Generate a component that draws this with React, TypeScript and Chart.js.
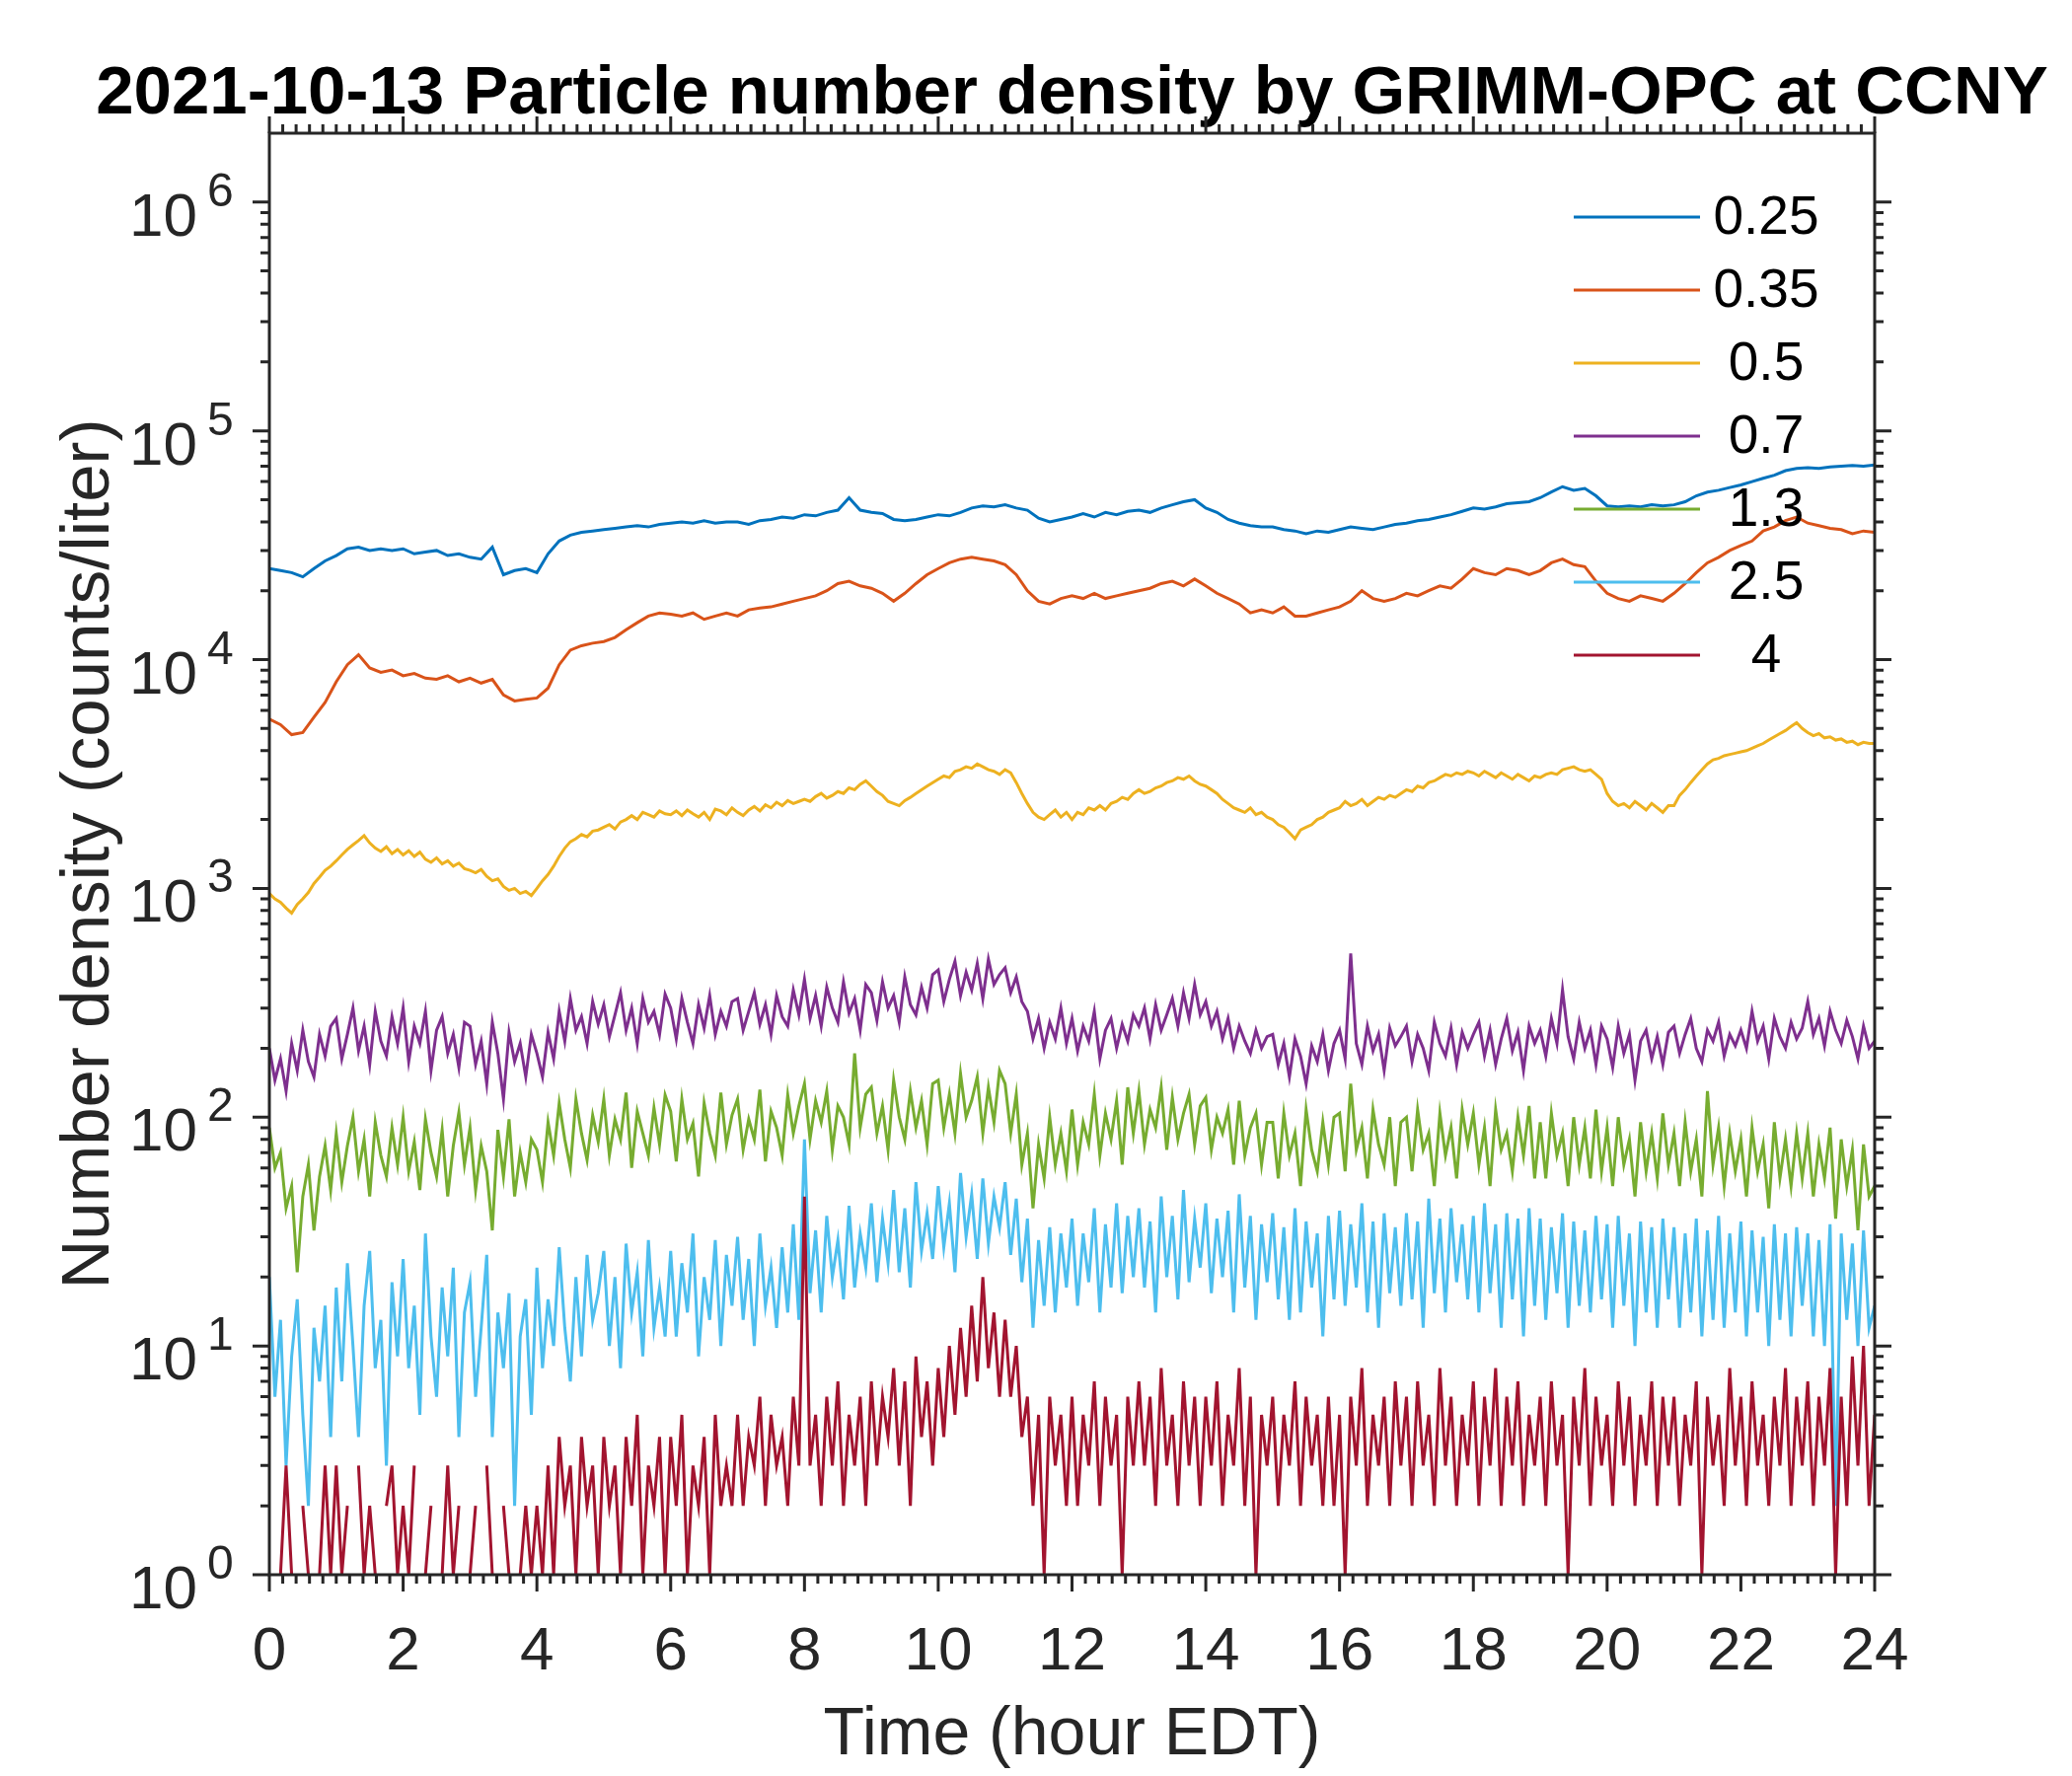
import React, { useEffect, useRef } from "react";
import { Chart, registerables } from "chart.js";

Chart.register(...registerables);

const FONT = "'Liberation Sans', Arial, Helvetica, sans-serif";
const AXIS_COLOR = "#262626";

const TITLE = "2021-10-13 Particle number density by GRIMM-OPC at CCNY";
const X_TITLE = "Time (hour EDT)";
const Y_TITLE = "Number density (counts/liter)";
const X_MIN = 0;
const X_MAX = 24;
const X_TICKS = [0, 2, 4, 6, 8, 10, 12, 14, 16, 18, 20, 22, 24];
const X_MINOR_STEP = 0.2;
const Y_MIN = 1;
const Y_MAX = 2e6;
const Y_TICK_EXPONENTS = [0, 1, 2, 3, 4, 5, 6];

const SIZE_LABELS = ["0.25", "0.35", "0.5", "0.7", "1.3", "2.5", "4"];
const COLORS = ["#0072BD", "#D95319", "#EDB120", "#7E2F8E", "#77AC30", "#4DBEEE", "#A2142F"];

// 10-minute readings (0:00 .. 24:00)
const N_025 = [
  25000, 24500, 24000, 23000, 25000, 27000,
  28500, 30500, 31000, 30000, 30500, 30000,
  30500, 29000, 29500, 30000, 28500, 29000,
  28000, 27500, 31000, 23500, 24500, 25000,
  24000, 29000, 33000, 35000, 36000, 36500,
  37000, 37500, 38000, 38500, 38000, 39000,
  39500, 40000, 39500, 40500, 39500, 40000,
  40000, 39000, 40500, 41000, 42000, 41500,
  43000, 42500, 44000, 45000, 51000, 45000,
  44000, 43500, 41000, 40500, 41000, 42000,
  43000, 42500, 44000, 46000, 47000, 46500,
  47500, 46000, 45000, 41500, 40000, 41000,
  42000, 43500, 42000, 44000, 43000, 44500,
  45000, 44000, 46000, 47500, 49000, 50000,
  46000, 44000, 41000, 39500, 38500, 38000,
  38000, 37000, 36500, 35500, 36500, 36000,
  37000, 38000, 37500, 37000, 38000, 39000,
  39500, 40500, 41000, 42000, 43000, 44500,
  46000, 45500, 46500, 48000, 48500, 49000,
  51000, 54000, 57000, 55000, 56000, 52000,
  47000, 46500, 47000, 46500, 47500, 47000,
  47500, 49000, 52000, 54000, 55000, 56500,
  58000, 60000, 62000, 64000, 67000, 68500,
  69000, 68500, 69500, 70000, 70500, 70000,
  71000,
];

const N_035 = [
  5500, 5200, 4700, 4800, 5600, 6500,
  8000, 9500, 10500, 9200, 8800, 9000,
  8500, 8700, 8300, 8200, 8500, 8000,
  8300, 7900, 8200, 7000, 6600, 6700,
  6800, 7500, 9500, 11000, 11500, 11800,
  12000, 12500, 13500, 14500, 15500, 16000,
  15800, 15500, 16000, 15000, 15500, 16000,
  15500, 16500, 16800, 17000, 17500, 18000,
  18500, 19000, 20000, 21500, 22000, 21000,
  20500, 19500, 18000, 19500, 21500, 23500,
  25000, 26500, 27500, 28000, 27500, 27000,
  26000, 23500, 20000, 18000, 17500, 18500,
  19000, 18500, 19500, 18500, 19000, 19500,
  20000, 20500, 21500, 22000, 21000, 22500,
  21000, 19500, 18500, 17500, 16000, 16500,
  16000, 17000, 15500, 15500, 16000, 16500,
  17000, 18000, 20000, 18500, 18000, 18500,
  19500, 19000, 20000, 21000, 20500, 22500,
  25000, 24000, 23500, 25000, 24500, 23500,
  24500, 26500, 27500, 26000, 25500, 22000,
  19500, 18500, 18000, 19000, 18500, 18000,
  19500, 21500, 24000, 26500, 28000, 30000,
  31500, 33000, 36500, 38000, 40500, 42000,
  39500, 38500, 37500, 37000, 35500, 36500,
  36000,
];

// 5-minute readings (0:00 .. 24:00)
const N_05 = [
  950, 900, 870, 820, 780, 850, 900, 960, 1050, 1120, 1200, 1250,
  1320, 1400, 1480, 1550, 1620, 1700, 1580, 1500, 1450, 1520, 1420, 1480,
  1400, 1460, 1380, 1440, 1340, 1300, 1360, 1280, 1320, 1250, 1290, 1220,
  1200, 1170, 1210, 1130, 1080, 1100, 1020, 980, 1000, 950, 970, 930,
  1000, 1080, 1150, 1250, 1380, 1500, 1600, 1650, 1720, 1680, 1780, 1800,
  1850, 1900, 1820, 1950, 2000, 2080, 2000, 2150, 2100, 2050, 2180, 2120,
  2100, 2180, 2080, 2200, 2120, 2050, 2150, 2000, 2220, 2180, 2100, 2250,
  2150, 2080, 2200, 2280, 2180, 2320, 2250, 2380, 2300, 2420, 2350, 2400,
  2450, 2400, 2520, 2600, 2480, 2550, 2650, 2600, 2750, 2700, 2850, 2950,
  2800, 2650, 2550, 2400, 2350, 2300, 2420, 2500, 2600, 2700, 2800, 2900,
  3000, 3100, 3050, 3250, 3300, 3400, 3350, 3500, 3400, 3300, 3250, 3150,
  3300, 3200, 2900, 2600, 2350, 2150, 2050, 2000, 2100, 2200, 2050, 2150,
  2000, 2150, 2100, 2250, 2200, 2300, 2200, 2350, 2400, 2500, 2450, 2600,
  2700, 2600, 2650, 2750, 2800, 2900, 2950, 3050, 3000, 3100, 2950, 2850,
  2800, 2700, 2600, 2450, 2350, 2250, 2200, 2150, 2250, 2100, 2150, 2050,
  2000, 1900, 1850, 1750, 1650, 1800, 1850, 1900, 2000, 2050, 2150, 2200,
  2250, 2400, 2300, 2350, 2450, 2300, 2400, 2500, 2450, 2550, 2500, 2600,
  2700, 2650, 2800, 2750, 2900, 2950, 3050, 3150, 3100, 3200, 3150, 3250,
  3200, 3100, 3250, 3150, 3050, 3200, 3100, 3000, 3150, 3050, 2950, 3100,
  3050, 3150, 3200, 3150, 3300, 3350, 3400, 3300, 3250, 3300, 3150, 3000,
  2600, 2400, 2300, 2350, 2250, 2400, 2300, 2200, 2350, 2250, 2150, 2300,
  2300, 2550, 2700, 2900, 3100, 3300, 3500, 3650, 3700, 3800, 3850, 3900,
  3950, 4000, 4100, 4200, 4300, 4450, 4600, 4750, 4900, 5100, 5300, 5000,
  4800, 4650, 4750, 4550, 4600, 4450, 4500, 4350, 4400, 4250, 4350, 4300,
  4300,
];

const N_07 = [
  200, 145, 180, 130, 210, 160, 240, 175, 150, 230, 185, 250,
  270, 180, 230, 300, 195, 250, 170, 290, 215, 185, 275, 210,
  300, 175, 250, 210, 290, 160, 240, 275, 190, 230, 165, 260,
  250, 170, 215, 140, 260, 190, 120, 235, 175, 210, 150, 230,
  190, 150, 235, 180, 290, 215, 330, 240, 275, 210, 320, 255,
  310, 225, 280, 350, 240, 300, 210, 330, 260, 290, 230, 345,
  300, 220, 330, 260, 210, 310, 245, 340, 230, 290, 250, 320,
  330, 240, 290, 350, 255, 310, 230, 340, 275, 250, 360, 280,
  400, 270, 340, 250, 370, 300, 260, 390, 285, 330, 240, 380,
  350, 265, 390, 300, 340, 260, 410, 310, 280, 370, 300, 420,
  440, 320, 400, 480, 340, 430, 360, 470, 330, 490, 380, 420,
  450, 350, 410, 320, 290, 220, 270, 200, 260, 220, 300, 210,
  270, 195, 250, 215, 290, 180, 240, 270, 200, 255, 215, 280,
  250, 300, 220, 310, 240, 280, 330, 250, 350, 270, 380, 280,
  320, 250, 290, 220, 270, 200, 250, 215, 190, 240, 200, 225,
  230, 170, 210, 150, 220, 185, 140, 205, 175, 230, 160, 210,
  240, 180, 520, 210, 170, 250, 195, 230, 160, 245, 205, 225,
  250, 175, 230, 200, 160, 260, 210, 185, 245, 170, 235, 200,
  230, 260, 185, 240, 170, 220, 270, 195, 235, 160, 250, 210,
  240, 185, 270, 210, 360, 225, 180, 260, 200, 240, 170, 250,
  220, 165, 250, 190, 230, 145, 215, 240, 180, 225, 170, 235,
  250, 190, 230, 270, 200, 175, 240, 215, 260, 185, 230, 205,
  240, 200, 290, 215, 250, 180, 270, 225, 200, 260, 220, 245,
  320, 230, 270, 205, 290, 240, 210, 265, 225, 180, 250, 200,
  215,
];

const N_13 = [
  90, 60, 70, 40, 50, 21, 45, 62, 32, 55, 75, 48,
  85, 52, 75, 100, 58, 80, 45, 95, 68, 55, 90, 62,
  100, 58, 78, 48, 98, 70, 55, 88, 45, 75, 105, 62,
  90, 48, 75, 58, 32, 88, 55, 98, 45, 70, 52, 80,
  72, 52, 95, 68, 115, 80, 60, 120, 85, 65, 102, 78,
  120, 68, 98, 80, 128, 60, 106, 85, 68, 110, 76, 125,
  106, 64, 120, 80, 94, 55, 115, 85, 68, 128, 76, 102,
  120, 72, 98, 80, 132, 64, 106, 90, 68, 125, 85, 112,
  140, 80, 118, 95, 130, 72, 112, 100, 76, 190, 90, 126,
  135, 85, 112, 72, 145, 100, 80, 130, 90, 118, 76, 140,
  145, 90, 126, 85, 155, 100, 118, 150, 85, 135, 95, 160,
  140, 85, 126, 62, 85, 40, 76, 54, 100, 62, 85, 58,
  108, 62, 95, 76, 126, 68, 104, 80, 118, 62, 135, 85,
  130, 76, 108, 90, 135, 72, 122, 80, 104, 126, 76, 112,
  122, 72, 100, 85, 108, 62, 118, 68, 90, 104, 62, 95,
  95, 54, 104, 68, 85, 50, 108, 72, 58, 95, 62, 100,
  104, 58, 140, 72, 90, 54, 108, 76, 62, 100, 50, 95,
  100, 58, 108, 72, 85, 50, 104, 68, 90, 54, 108, 76,
  104, 62, 90, 50, 108, 72, 85, 58, 100, 68, 112, 54,
  95, 54, 104, 68, 85, 50, 100, 62, 90, 54, 108, 58,
  90, 50, 100, 62, 80, 45, 95, 58, 85, 54, 104, 62,
  85, 50, 95, 58, 80, 45, 130, 62, 90, 50, 85, 58,
  80, 45, 90, 58, 76, 40, 95, 54, 80, 50, 85, 54,
  85, 45, 76, 54, 90, 36, 80, 50, 72, 32, 76, 45,
  50,
];

const N_25 = [
  20, 6, 13, 3, 9, 16, 5, 2, 12, 7, 15, 4,
  18, 7, 23, 10, 4, 15, 26, 8, 13, 3, 19, 9,
  24, 8, 15, 5, 31, 11, 6, 18, 9, 22, 4, 14,
  19, 6, 12, 25, 4, 14, 8, 17, 2, 11, 16, 5,
  22, 8, 16, 10, 27, 12, 7, 20, 9, 25, 13, 17,
  26, 10, 20, 8, 28, 14, 21, 9, 29, 12, 18, 11,
  26, 11, 23, 14, 31, 9, 20, 13, 29, 10, 25, 15,
  30, 13, 24, 10, 31, 15, 22, 12, 27, 14, 34, 13,
  80, 17, 32, 14, 37, 20, 29, 16, 41, 18, 31, 22,
  42, 19, 36, 23, 48, 21, 40, 18, 52, 26, 38, 24,
  50, 27, 42, 21, 57, 30, 46, 24, 54, 28, 45, 33,
  52, 25, 44, 19, 36, 12, 29, 15, 33, 14, 31, 18,
  36, 15, 31, 19, 40, 14, 34, 18, 42, 17, 37, 20,
  40, 18, 35, 14, 45, 20, 37, 16, 48, 19, 36, 22,
  42, 17, 36, 20, 39, 14, 46, 18, 37, 13, 34, 19,
  38, 16, 33, 13, 40, 14, 35, 18, 31, 11, 37, 16,
  39, 15, 34, 18, 42, 14, 35, 12, 38, 17, 33, 15,
  38, 16, 35, 12, 44, 17, 36, 14, 40, 19, 34, 16,
  37, 14, 42, 17, 34, 12, 38, 16, 36, 11, 40, 15,
  36, 13, 33, 17, 38, 12, 35, 15, 32, 14, 37, 16,
  34, 12, 37, 15, 31, 10, 35, 14, 33, 12, 36, 16,
  33, 12, 31, 14, 36, 11, 32, 13, 37, 12, 31, 14,
  35, 11, 32, 14, 30, 10, 34, 13, 31, 11, 33, 15,
  31, 11, 29, 10, 34, 2, 31, 13, 28, 10, 32, 12,
  15,
];

// null = zero count (not drawn on a log axis)
const N_4 = [
  2, null, 1, 3, 1, null, 2, 1, null, 1, 3, 1,
  3, 1, 2, null, 3, 1, 2, 1, null, 2, 3, 1,
  2, 1, 3, null, 1, 2, null, 1, 3, 1, 2, null,
  1, 2, null, 3, 1, null, 2, 1, null, 1, 2, 1,
  2, 1, 3, 1, 4, 2, 3, 1, 4, 2, 3, 1,
  4, 2, 3, 1, 4, 2, 5, 1, 3, 2, 4, 1,
  4, 2, 5, 1, 3, 2, 4, 1, 5, 2, 3, 2,
  5, 2, 4, 3, 6, 2, 5, 3, 4, 2, 6, 3,
  45, 3, 5, 2, 6, 3, 7, 2, 5, 3, 6, 2,
  7, 3, 6, 4, 8, 3, 7, 2, 9, 4, 7, 3,
  8, 4, 10, 5, 12, 6, 15, 7, 20, 8, 14, 6,
  13, 6, 10, 4, 6, 2, 5, 1, 6, 3, 5, 2,
  6, 2, 5, 3, 7, 2, 6, 3, 5, 1, 6, 3,
  7, 3, 6, 2, 8, 3, 5, 2, 7, 3, 6, 2,
  6, 3, 7, 2, 5, 3, 8, 2, 6, 1, 5, 3,
  6, 2, 5, 3, 7, 2, 6, 3, 5, 2, 6, 2,
  5, 1, 6, 3, 8, 2, 5, 3, 6, 2, 7, 3,
  6, 2, 7, 3, 5, 2, 8, 3, 6, 2, 5, 3,
  7, 2, 6, 3, 8, 2, 6, 3, 7, 2, 5, 3,
  6, 2, 7, 3, 5, 1, 6, 3, 8, 2, 6, 3,
  5, 2, 7, 3, 6, 2, 5, 3, 7, 2, 6, 3,
  6, 2, 5, 3, 7, 1, 6, 3, 5, 2, 8, 3,
  6, 2, 7, 3, 5, 2, 6, 3, 8, 2, 6, 3,
  7, 2, 6, 3, 8, 1, 6, 2, 9, 3, 10, 2,
  5,
];

const SERIES = [N_025, N_035, N_05, N_07, N_13, N_25, N_4];

const hoursFor = (n: number) => Array.from({ length: n }, (_, i) => (X_MAX * i) / (n - 1));

const matlabAxes = {
  id: "matlabAxes",
  afterDatasetsDraw(chart: any) {
    const { ctx, chartArea: a } = chart;
    ctx.save();
    const x1 = a.right - 305;
    const x2 = a.right - 177;
    const tx = a.right - 110;
    SIZE_LABELS.forEach((label, i) => {
      const y = a.top + 85 + i * 74;
      ctx.strokeStyle = COLORS[i];
      ctx.lineWidth = 3;
      ctx.beginPath();
      ctx.moveTo(x1, y);
      ctx.lineTo(x2, y);
      ctx.stroke();
      ctx.fillStyle = "#000000";
      ctx.font = `55px ${FONT}`;
      ctx.textAlign = "center";
      ctx.textBaseline = "middle";
      ctx.fillText(label, tx, y + 2);
    });
    ctx.restore();
  },
  afterDraw(chart: any) {
    const { ctx, chartArea: a, scales } = chart;
    const xs = scales.x;
    const ys = scales.y;
    const MAJ = 17;
    const MIN = 9;
    ctx.save();
    // title (drawn without width compression, centred over the axes)
    ctx.fillStyle = "#000000";
    ctx.font = `bold 69px ${FONT}`;
    ctx.textAlign = "center";
    ctx.textBaseline = "alphabetic";
    ctx.fillText(TITLE, (a.left + a.right) / 2, a.top - 20);
    // axes box and ticks
    ctx.strokeStyle = AXIS_COLOR;
    ctx.lineWidth = 3;
    ctx.lineCap = "butt";
    ctx.strokeRect(a.left, a.top, a.right - a.left, a.bottom - a.top);
    ctx.beginPath();
    const nMinor = Math.round((X_MAX - X_MIN) / X_MINOR_STEP);
    for (let k = 0; k <= nMinor; k++) {
      const v = X_MIN + k * X_MINOR_STEP;
      const major = X_TICKS.some((t) => Math.abs(t - v) < 1e-6);
      const len = major ? MAJ : MIN;
      const px = xs.getPixelForValue(v);
      ctx.moveTo(px, a.bottom);
      ctx.lineTo(px, a.bottom + len);
      ctx.moveTo(px, a.top);
      ctx.lineTo(px, a.top - len);
    }
    for (let e = 0; e < Y_TICK_EXPONENTS.length; e++) {
      const exp = Y_TICK_EXPONENTS[e];
      for (let m = 1; m <= 9; m++) {
        const v = m * Math.pow(10, exp);
        if (v > Y_MAX * 0.999) break;
        const len = m === 1 ? MAJ : MIN;
        const py = ys.getPixelForValue(v);
        ctx.moveTo(a.left, py);
        ctx.lineTo(a.left - len, py);
        ctx.moveTo(a.right, py);
        ctx.lineTo(a.right + len, py);
      }
    }
    ctx.stroke();
    // y tick labels 10^n
    ctx.fillStyle = AXIS_COLOR;
    ctx.textBaseline = "alphabetic";
    Y_TICK_EXPONENTS.forEach((exp) => {
      const py = ys.getPixelForValue(Math.pow(10, exp));
      ctx.font = `62px ${FONT}`;
      ctx.textAlign = "right";
      ctx.fillText("10", a.left - 73, py + 34);
      ctx.font = `48px ${FONT}`;
      ctx.textAlign = "left";
      ctx.fillText(String(exp), a.left - 63, py + 4);
    });
    ctx.restore();
  },
};

export default function App() {
  const ref = useRef<HTMLCanvasElement | null>(null);

  useEffect(() => {
    if (!ref.current) return;
    const datasets = SERIES.map((vals, i) => {
      const hours = hoursFor(vals.length);
      return {
        label: SIZE_LABELS[i],
        data: vals.map((v, j) => ({ x: hours[j], y: v })),
        borderColor: COLORS[i],
        backgroundColor: COLORS[i],
        borderWidth: 3,
        pointRadius: 0,
        tension: 0,
        fill: false,
        spanGaps: false,
        order: SERIES.length - 1 - i,
      };
    });

    const chart = new Chart(ref.current, {
      type: "line",
      data: { datasets },
      options: {
        responsive: false,
        animation: false,
        devicePixelRatio: 1,
        events: [],
        layout: { padding: { left: 0, right: 200, top: 135, bottom: 0 } },
        plugins: {
          legend: { display: false },
          tooltip: { enabled: false },
          title: { display: false },
        },
        scales: {
          x: {
            type: "linear",
            min: X_MIN,
            max: X_MAX,
            afterBuildTicks: (scale: any) => {
              scale.ticks = X_TICKS.map((v) => ({ value: v }));
            },
            afterFit: (scale: any) => {
              scale.height = 204;
            },
            grid: { display: false, drawTicks: false, tickLength: 0 },
            border: { display: false },
            ticks: {
              autoSkip: false,
              maxRotation: 0,
              padding: 42,
              color: AXIS_COLOR,
              font: { family: FONT, size: 62, lineHeight: 1.2 },
              callback: (v: any) => String(v),
            },
            title: {
              display: true,
              text: X_TITLE,
              color: AXIS_COLOR,
              font: { family: FONT, size: 68, lineHeight: 1.2 },
              padding: { top: 0, bottom: 0 },
            },
          },
          y: {
            type: "logarithmic",
            min: Y_MIN,
            max: Y_MAX,
            afterFit: (scale: any) => {
              scale.width = 273;
            },
            grid: { display: false, drawTicks: false, tickLength: 0 },
            border: { display: false },
            ticks: { display: false },
            title: {
              display: true,
              text: Y_TITLE,
              color: AXIS_COLOR,
              font: { family: FONT, size: 69, lineHeight: 1.2 },
              padding: { top: 50, bottom: 0 },
            },
          },
        },
      } as any,
      plugins: [matlabAxes],
    });
    return () => chart.destroy();
  }, []);

  return (
    <div style={{ position: "absolute", left: 0, top: 0, width: 2100, height: 1800, background: "#ffffff" }}>
      <canvas ref={ref} width={2100} height={1800} style={{ display: "block", width: 2100, height: 1800 }} />
    </div>
  );
}
